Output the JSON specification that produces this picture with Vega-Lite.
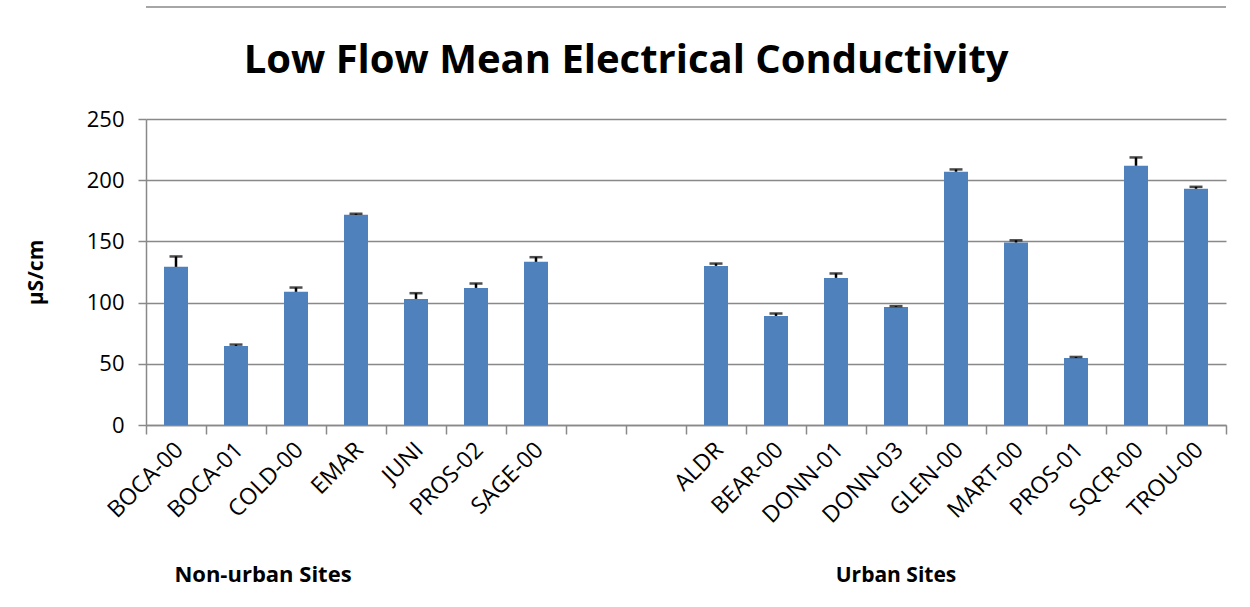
{
  "$schema": "https://vega.github.io/schema/vega-lite/v6.json",
  "width": 1080,
  "height": 306,
  "autosize": {"type": "none"},
  "padding": {"left": 146, "top": 119, "right": 24, "bottom": 182},
  "background": "white",
  "config": {
    "view": {"stroke": null},
    "axisX": {
      "title": null,
      "tickBand": "extent",
      "labelAngle": -45,
      "labelAlign": "right",
      "labelBaseline": "middle",
      "labelFont": "Open Sans",
      "labelFontSize": 23,
      "labelColor": "black",
      "labelPadding": 12,
      "labelOffset": 3,
      "labelOverlap": false,
      "labelBound": false,
      "tickSize": 9,
      "tickColor": "#898989",
      "tickWidth": 1.5,
      "domainColor": "#898989",
      "domainWidth": 1.5,
      "grid": false
    },
    "axisY": {
      "titleFont": "Open Sans",
      "titleFontWeight": "bold",
      "titleFontSize": 21,
      "titleColor": "black",
      "titlePadding": 40,
      "labelFont": "Open Sans",
      "labelFontSize": 22,
      "labelColor": "black",
      "labelPadding": 14,
      "tickSize": 8,
      "tickColor": "#898989",
      "tickWidth": 1.5,
      "domainColor": "#898989",
      "domainWidth": 1.5,
      "grid": true,
      "gridColor": "#898989",
      "gridWidth": 1.5
    }
  },
  "title": {
    "text": "Low Flow Mean Electrical Conductivity",
    "font": "Open Sans",
    "fontSize": 40,
    "fontWeight": "bold",
    "color": "black",
    "anchor": "middle",
    "frame": "bounds",
    "baseline": "alphabetic",
    "offset": -107
  },
  "data": {
    "values": [
      {"site": "BOCA-00", "mean": 129.2, "upper": 137.7},
      {"site": "BOCA-01", "mean": 64.6, "upper": 65.7},
      {"site": "COLD-00", "mean": 108.8, "upper": 112.3},
      {"site": "EMAR", "mean": 171.7, "upper": 172.6},
      {"site": "JUNI", "mean": 103.0, "upper": 107.7},
      {"site": "PROS-02", "mean": 112.0, "upper": 115.6},
      {"site": "SAGE-00", "mean": 133.3, "upper": 137.1},
      {"site": "ALDR", "mean": 130.0, "upper": 131.9},
      {"site": "BEAR-00", "mean": 89.1, "upper": 91.1},
      {"site": "DONN-01", "mean": 120.2, "upper": 123.8},
      {"site": "DONN-03", "mean": 96.5, "upper": 97.1},
      {"site": "GLEN-00", "mean": 206.9, "upper": 208.8},
      {"site": "MART-00", "mean": 149.1, "upper": 150.9},
      {"site": "PROS-01", "mean": 54.8, "upper": 55.6},
      {"site": "SQCR-00", "mean": 211.8, "upper": 218.6},
      {"site": "TROU-00", "mean": 193.0, "upper": 194.6}
    ]
  },
  "layer": [
    {
      "mark": {"type": "bar", "width": {"band": 0.4}, "color": "#4F81BD"},
      "encoding": {
        "x": {
          "field": "site",
          "type": "nominal",
          "sort": null,
          "title": null,
          "scale": {
            "domain": ["BOCA-00", "BOCA-01", "COLD-00", "EMAR", "JUNI", "PROS-02", "SAGE-00", " ", "  ", "ALDR", "BEAR-00", "DONN-01", "DONN-03", "GLEN-00", "MART-00", "PROS-01", "SQCR-00", "TROU-00"],
            "paddingInner": 0,
            "paddingOuter": 0
          }
        },
        "y": {
          "field": "mean",
          "type": "quantitative",
          "title": "µS/cm",
          "scale": {"domain": [0, 250], "nice": false},
          "axis": {"values": [0, 50, 100, 150, 200, 250]}
        }
      }
    },
    {
      "mark": {"type": "rule", "color": "black", "strokeWidth": 2.5},
      "encoding": {
        "x": {"field": "site", "type": "nominal", "sort": null, "title": null},
        "y": {"field": "mean", "type": "quantitative", "title": "µS/cm"},
        "y2": {"field": "upper"}
      }
    },
    {
      "mark": {"type": "tick", "color": "black", "thickness": 2.5, "size": 13},
      "encoding": {
        "x": {"field": "site", "type": "nominal", "sort": null, "title": null},
        "y": {"field": "upper", "type": "quantitative", "title": "µS/cm"}
      }
    },
    {
      "mark": {"type": "rule", "color": "#a6a6a6", "strokeWidth": 2},
      "encoding": {
        "y": {"datum": 341.5, "type": "quantitative", "title": "µS/cm"}
      }
    },
    {
      "data": {"values": [{"group": "Non-urban Sites", "site": "COLD-00"}]},
      "mark": {"type": "text", "font": "Open Sans", "fontWeight": "bold", "fontSize": 22, "baseline": "alphabetic", "align": "center", "color": "black", "dx": -3},
      "encoding": {
        "x": {"field": "site", "type": "nominal", "bandPosition": 0, "title": null},
        "y": {"datum": -128, "type": "quantitative", "title": "µS/cm"},
        "text": {"field": "group"}
      }
    },
    {
      "data": {"values": [{"group": "Urban Sites", "site": "DONN-03"}]},
      "mark": {"type": "text", "font": "Open Sans", "fontWeight": "bold", "fontSize": 21, "baseline": "alphabetic", "align": "center", "color": "black"},
      "encoding": {
        "x": {"field": "site", "type": "nominal", "title": null},
        "y": {"datum": -128, "type": "quantitative", "title": "µS/cm"},
        "text": {"field": "group"}
      }
    }
  ]
}
